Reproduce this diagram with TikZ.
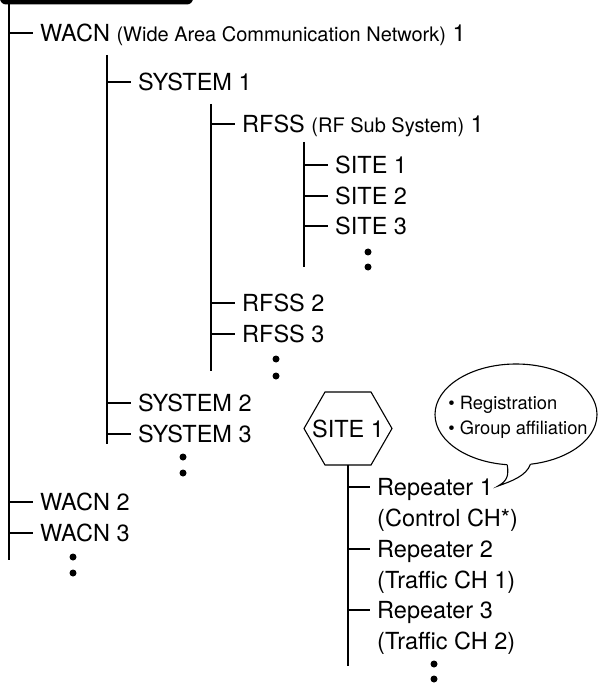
\documentclass[tikz,border=0pt]{standalone}
\usepackage{fontspec}
\setmainfont{TeX Gyre Heros}
\usetikzlibrary{positioning}

\newcommand{\treefont}{\fontsize{23.5}{28}\selectfont}
\newcommand{\parfont}{\fontsize{20}{24}\selectfont}
\newcommand{\bubblefont}{\fontsize{18.3}{25}\selectfont}

\tikzset{
  branch/.style={anchor=west, inner xsep=7pt, inner ysep=0pt, text height=17pt, text depth=0pt, font=\treefont},
  stem/.style={line width=1.1pt},
  hexsite/.style={inner sep=0pt, text height=17pt, text depth=0pt, font=\treefont}
}

\begin{document}
\begin{tikzpicture}[x=1pt,y=-1pt]
	\useasboundingbox (0,0) rectangle (598,684);
	% header bar
	\fill[rounded corners=6pt] (0,-12) rectangle (193,4.5);

	% WACN level
	\coordinate (lvlAtop) at (9,0);
	\coordinate (lvlAbot) at (9,560);
	\draw[stem] (lvlAtop) -- (lvlAbot);
	\node[branch] (wacnA) at (33,33) {WACN {\parfont(Wide Area Communication Network)} 1};
	\node[branch] (wacnB) at (33,502) {WACN 2};
	\node[branch] (wacnC) at (33,533) {WACN 3};
	\foreach \n in {wacnA,wacnB,wacnC}
		\draw[stem] (\n.west -| lvlAtop) -- (\n.west);
	\fill (73,557) circle (3.5pt) (73,573) circle (3.5pt);

	% SYSTEM level
	\coordinate (lvlBtop) at (107,55);
	\coordinate (lvlBbot) at (107,444);
	\draw[stem] (lvlBtop) -- (lvlBbot);
	\node[branch] (sysA) at (131,82) {SYSTEM 1};
	\node[branch] (sysB) at (131,403) {SYSTEM 2};
	\node[branch] (sysC) at (131,434) {SYSTEM 3};
	\foreach \n in {sysA,sysB,sysC}
		\draw[stem] (\n.west -| lvlBtop) -- (\n.west);
	\fill (183,457) circle (3.5pt) (183,473) circle (3.5pt);

	% RFSS level
	\coordinate (lvlCtop) at (211,104);
	\coordinate (lvlCbot) at (211,371);
	\draw[stem] (lvlCtop) -- (lvlCbot);
	\node[branch] (rfssA) at (235,124) {RFSS {\parfont(RF Sub System)} 1};
	\node[branch] (rfssB) at (235,303) {RFSS 2};
	\node[branch] (rfssC) at (235,334) {RFSS 3};
	\foreach \n in {rfssA,rfssB,rfssC}
		\draw[stem] (\n.west -| lvlCtop) -- (\n.west);
	\fill (276,359) circle (3.5pt) (276,376) circle (3.5pt);

	% SITE level
	\coordinate (lvlDtop) at (304,142);
	\coordinate (lvlDbot) at (304,267);
	\draw[stem] (lvlDtop) -- (lvlDbot);
	\node[branch] (siteA) at (328,165) {SITE 1};
	\node[branch] (siteB) at (328,196) {SITE 2};
	\node[branch] (siteC) at (328,226) {SITE 3};
	\foreach \n in {siteA,siteB,siteC}
		\draw[stem] (\n.west -| lvlDtop) -- (\n.west);
	\fill (368,252) circle (3.5pt) (368,267) circle (3.5pt);

	% one site in detail
	\node[hexsite] (hex) at (348,428.5) {SITE 1};
	\draw[stem] (304,428.5) -- (325,392) -- (371,392) -- (392,428.5) -- (371,465) -- (325,465) -- cycle;
	\coordinate (hexbot) at (348,465);
	\coordinate (lvlEbot) at (348,666);
	\draw[stem] (hexbot) -- (lvlEbot);
	\node[branch] (repA) at (370,487) {Repeater 1};
	\node[branch] (repAnote) at (370,518) {(Control CH*)};
	\node[branch] (repB) at (370,549) {Repeater 2};
	\node[branch] (repBnote) at (370,580) {(Traffic CH 1)};
	\node[branch] (repC) at (370,610) {Repeater 3};
	\node[branch] (repCnote) at (370,641) {(Traffic CH 2)};
	\foreach \n in {repA,repB,repC}
		\draw[stem] (\n.west -| hexbot) -- (\n.west);
	\fill (434,664) circle (3.5pt) (434,679) circle (3.5pt);

	% speech bubble
	\draw[stem] (516,414.5) ellipse [x radius=81pt, y radius=50.5pt];
	\coordinate (tip) at (498,486);
	\fill[white] (507.2,461) -- (507.2,466) .. controls (509,476) and (507,481) .. (tip) .. controls (512,481) and (526,476) .. (530.5,466) -- (530.5,461) -- cycle;
	\draw[stem] (507.2,464.6) .. controls (509,476) and (507,481) .. (tip) .. controls (512,481) and (526,476) .. (530.5,464.2);
	\node[font=\bubblefont, align=left, inner sep=0pt] (bubble) at (518,417) {\textbullet\ Registration\\\textbullet\ Group affiliation};
\end{tikzpicture}
\end{document}
